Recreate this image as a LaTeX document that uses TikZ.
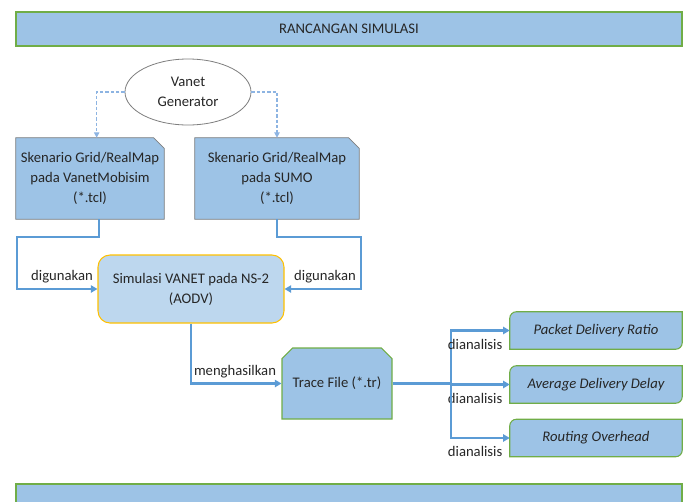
\documentclass[tikz,border=0pt]{standalone}
\usepackage{fontspec}
\setmainfont{Carlito}
\usetikzlibrary{arrows.meta,shapes.geometric,shapes.misc,backgrounds}

\definecolor{boxblue}{HTML}{9DC3E6}
\definecolor{paleblue}{HTML}{BDD7EE}
\definecolor{linkblue}{HTML}{5B9BD5}
\definecolor{dashblue}{HTML}{8DB4E2}
\definecolor{boxgreen}{HTML}{70AD47}
\definecolor{simgold}{HTML}{FFC000}
\definecolor{edgegray}{HTML}{7F7F7F}
\definecolor{inktext}{HTML}{262626}

\tikzset{
  bar/.style={rectangle,draw=boxgreen,fill=boxblue,line width=0.8pt,
    minimum width=499.5pt,minimum height=25.5pt,inner sep=0pt},
  gen/.style={ellipse,draw=edgegray,fill=white,line width=0.6pt,
    minimum width=94.5pt,minimum height=49.5pt,inner sep=0pt,align=center},
  scenario/.style={rectangle,minimum height=60.75pt,inner sep=0pt,align=center},
  snipped/.style={draw=edgegray,fill=boxblue,line width=0.6pt},
  sim/.style={rectangle,rounded corners=9pt,draw=simgold,fill=paleblue,line width=0.8pt,
    minimum width=139.5pt,minimum height=51pt,inner sep=0pt,align=center},
  trace/.style={chamfered rectangle,chamfered rectangle corners={north west,north east},
    chamfered rectangle xsep=8pt,draw=boxgreen,fill=boxblue,line width=0.8pt,
    minimum width=82.5pt,minimum height=53.25pt,inner sep=0pt},
  result/.style={rectangle,minimum width=129pt,minimum height=27.75pt,inner sep=0pt,
    font=\fontsize{11}{15}\selectfont\itshape},
  link/.style={draw=linkblue,line width=1.6pt,-{Triangle[length=5pt,width=5.5pt]}},
  dashlink/.style={draw=dashblue,line width=0.8pt,dash pattern=on 2.5pt off 1.5pt,
    -{Triangle[length=4pt,width=4pt]}}
}

\begin{document}
\begin{tikzpicture}[x=0.75pt,y=-0.75pt,font=\fontsize{11}{15}\selectfont,text=inktext]
  \useasboundingbox (0,0) rectangle (683,501);

  % header and footer
  \node[bar] (head) at (349,29) {RANCANGAN SIMULASI};
  \node[bar,minimum height=18pt] (foot) at (349,496) {};

  % generator and scenarios
  \node[gen] (gen) at (188,92) {Vanet\\Generator};
  \node[scenario,minimum width=111pt] (skenA) at (90,178.5)
    {Skenario Grid/RealMap\\pada VanetMobisim\\(*.tcl)};
  \node[scenario,minimum width=123pt] (skenB) at (277,178.5)
    {Skenario Grid/RealMap\\pada SUMO\\(*.tcl)};
  \begin{scope}[on background layer]
    \foreach \n in {skenA,skenB}
      \draw[snipped] (\n.south west) -- (\n.north west) -- ([xshift=-8pt]\n.north east)
        -- ([yshift=-8pt]\n.north east) -- (\n.south east) -- cycle;
  \end{scope}

  % simulation and trace
  \node[sim] (sim) at (191,289) {Simulasi VANET pada NS-2\\(AODV)};
  \node[trace] (trace) at (337,383.5) {Trace File (*.tr)};

  % results
  \node[result] (pdr) at (596,330.5) {Packet Delivery Ratio};
  \node[result] (add) at (596,384.5) {Average Delivery Delay};
  \node[result] (ro) at (596,438) {Routing Overhead};
  \begin{scope}[on background layer]
    \foreach \n in {pdr,add,ro}
      \draw[draw=boxgreen,fill=boxblue,line width=0.8pt] (\n.south west)
        -- ([yshift=-5pt]\n.north west) arc[start angle=180,end angle=90,radius=5pt]
        -- (\n.north east) -- ([yshift=5pt]\n.south east)
        arc[start angle=0,end angle=-90,radius=5pt] -- cycle;
  \end{scope}

  % generator links
  \draw[dashlink] (gen.west) -| ([xshift=5pt]skenA.north);
  \draw[dashlink] (gen.east) -| (skenB.north);

  % usage links
  \coordinate (bendA) at (17,237);
  \coordinate (bendB) at (361,237);
  \draw[link] ([xshift=7pt]skenA.south) |- (bendA) |- (sim.west);
  \draw[link] (skenB.south) |- (bendB) |- (sim.east);
  \node (useA) at (62,277) {digunakan};
  \node (useB) at (325,277) {digunakan};

  % output link
  \draw[link] (sim.south) |- (trace.west);
  \node (makes) at (235,372) {menghasilkan};

  % analysis links
  \coordinate (split) at (451,383.5);
  \foreach \n in {pdr,add,ro}{
    \draw[link] (trace.east) -- (split) |- (\n.west);
    \node[anchor=north east] (\n-lbl) at ([xshift=-2pt,yshift=-3pt]\n.west) {dianalisis};
  }
\end{tikzpicture}
\end{document}
